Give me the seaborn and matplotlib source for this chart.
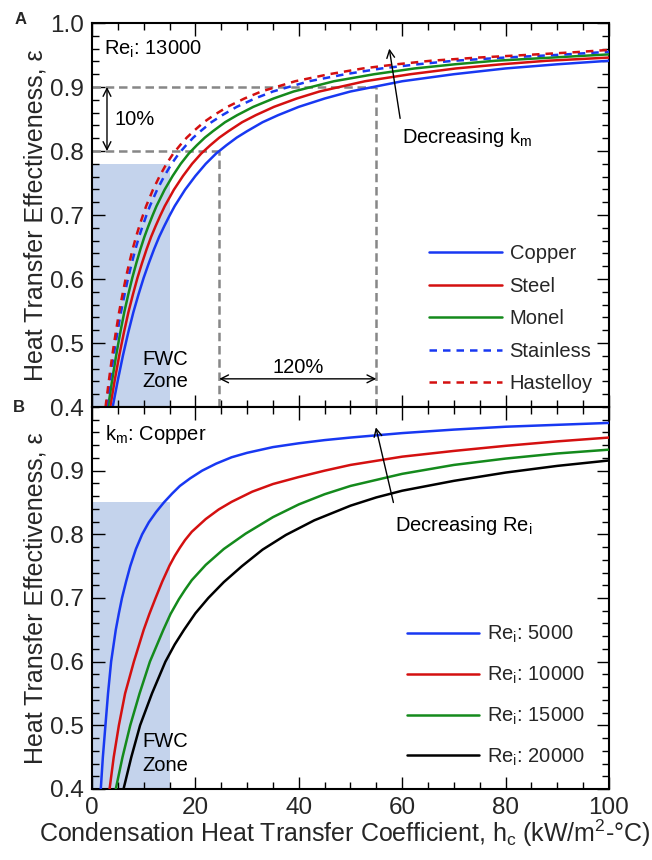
import matplotlib
matplotlib.use("Agg")
import matplotlib.pyplot as plt
from matplotlib.ticker import MultipleLocator, FixedLocator, FormatStrFormatter
import pandas as pd
import seaborn as sns

# ---------------- data ----------------
# Panel A: Re_i = 13000, different tube materials
copper_x = [4, 4.5, 5, 6, 7, 8, 9, 10, 11, 12, 13, 14, 15, 16, 18, 20, 22, 24, 26, 28,
            30, 33, 36, 40, 45, 50, 55, 60, 70, 80, 90, 100]
copper_y = [0.400, 0.421, 0.442, 0.481, 0.516, 0.548, 0.576, 0.602, 0.625, 0.6465, 0.666, 0.683,
            0.699, 0.714, 0.7395, 0.761, 0.780, 0.796, 0.809, 0.821, 0.831, 0.845, 0.856, 0.869,
            0.882, 0.893, 0.901, 0.909, 0.920, 0.929, 0.9355, 0.941]
steel_x = [3.52, 3.96, 4.4, 5.28, 6.16, 7.04, 7.92, 8.8, 9.68, 10.56, 11.44, 12.32, 13.2, 14.08,
           15.84, 17.6, 19.36, 21.12, 22.88, 24.64, 26.4, 29.04, 31.68, 35.2, 39.6, 44, 48.4,
           52.8, 61.6, 70.4, 79.2, 88, 100]
steel_y = [0.400, 0.421, 0.442, 0.481, 0.516, 0.548, 0.576, 0.602, 0.625, 0.6465, 0.666, 0.683,
           0.699, 0.714, 0.7395, 0.761, 0.780, 0.796, 0.809, 0.821, 0.831, 0.845, 0.856, 0.869,
           0.882, 0.893, 0.901, 0.909, 0.920, 0.929, 0.9355, 0.941, 0.946]
monel_x = [3.12, 3.51, 3.9, 4.68, 5.46, 6.24, 7.02, 7.8, 8.58, 9.36, 10.14, 10.92, 11.7, 12.48,
           14.04, 15.6, 17.16, 18.72, 20.28, 21.84, 23.4, 25.74, 28.08, 31.2, 35.1, 39, 42.9,
           46.8, 54.6, 62.4, 70.2, 78, 88.92, 100]
monel_y = [0.400, 0.421, 0.442, 0.481, 0.516, 0.548, 0.576, 0.602, 0.625, 0.6465, 0.666, 0.683,
           0.699, 0.714, 0.7395, 0.761, 0.780, 0.796, 0.809, 0.821, 0.831, 0.845, 0.856, 0.869,
           0.882, 0.893, 0.901, 0.909, 0.920, 0.929, 0.9355, 0.941, 0.946, 0.951]
stainless_x = [2.8, 3.15, 3.5, 4.2, 4.9, 5.6, 6.3, 7.0, 7.7, 8.4, 9.1, 9.8, 10.5, 11.2, 12.6, 14,
               15.4, 16.8, 18.2, 19.6, 21, 23.1, 25.2, 28, 31.5, 35, 38.5, 42, 49, 56, 63, 70,
               79.8, 89.6, 100]
stainless_y = [0.400, 0.421, 0.442, 0.481, 0.516, 0.548, 0.576, 0.602, 0.625, 0.6465, 0.666, 0.683,
               0.699, 0.714, 0.7395, 0.761, 0.780, 0.796, 0.809, 0.821, 0.831, 0.845, 0.856, 0.869,
               0.882, 0.893, 0.901, 0.909, 0.920, 0.929, 0.9355, 0.941, 0.946, 0.950, 0.955]
hastelloy_x = [2.62, 2.95, 3.28, 3.93, 4.59, 5.24, 5.9, 6.55, 7.21, 7.86, 8.52, 9.17, 9.83, 10.48,
               11.79, 13.1, 14.41, 15.72, 17.03, 18.34, 19.65, 21.62, 23.58, 26.2, 29.48, 32.75,
               36.03, 39.3, 45.85, 52.4, 58.95, 65.5, 74.67, 83.84, 93.67, 100]
hastelloy_y = [0.400, 0.421, 0.442, 0.481, 0.516, 0.548, 0.576, 0.602, 0.625, 0.6465, 0.666, 0.683,
               0.699, 0.714, 0.7395, 0.761, 0.780, 0.796, 0.809, 0.821, 0.831, 0.845, 0.856, 0.869,
               0.882, 0.893, 0.901, 0.909, 0.920, 0.929, 0.9355, 0.941, 0.946, 0.950, 0.9545, 0.958]
materials = ["Copper", "Steel", "Monel", "Stainless", "Hastelloy"]

# Panel B: copper tube, different Re_i
re5000_x = [1.7, 2.1, 2.6, 3.1, 3.7, 4.6, 5.2, 5.8, 6.6, 7.4, 8.5, 9.7, 11, 12.4, 13.9, 15.5,
            17, 19, 21.3, 24, 27, 30, 35, 40, 45, 50, 55, 60, 70, 80, 90, 100]
re5000_y = [0.40, 0.45, 0.50, 0.55, 0.60, 0.65, 0.676, 0.70, 0.726, 0.75, 0.777, 0.80, 0.819,
            0.835, 0.85, 0.864, 0.876, 0.888, 0.90, 0.911, 0.921, 0.928, 0.937, 0.943, 0.948,
            0.952, 0.9555, 0.959, 0.9645, 0.969, 0.972, 0.975]
re10000_x = [3.4, 4.2, 5.2, 6.4, 8.1, 10.0, 11.1, 12.3, 13.6, 15, 16, 17, 18, 19.3, 22, 24.5, 27,
             31, 35, 40, 45, 50, 60, 70, 80, 90, 100]
re10000_y = [0.40, 0.45, 0.50, 0.55, 0.60, 0.65, 0.675, 0.70, 0.726, 0.751, 0.766, 0.779, 0.791,
             0.804, 0.824, 0.839, 0.851, 0.867, 0.879, 0.890, 0.900, 0.909, 0.922, 0.931, 0.939,
             0.946, 0.952]
re15000_x = [4.6, 5.9, 7.4, 9.2, 11.2, 13.8, 15.2, 16.8, 18, 19.3, 22, 25.5, 29.7, 35, 40, 45, 50,
             60, 70, 80, 90, 100]
re15000_y = [0.40, 0.45, 0.50, 0.55, 0.60, 0.65, 0.675, 0.698, 0.713, 0.728, 0.752, 0.777, 0.801,
             0.827, 0.847, 0.863, 0.876, 0.895, 0.909, 0.919, 0.927, 0.933]
re20000_x = [6.1, 7.6, 9.3, 11.6, 12.9, 14.2, 16, 17.8, 20, 22.5, 25.5, 29, 33, 37.5, 43, 50, 55,
             60, 70, 80, 90, 100]
re20000_y = [0.40, 0.45, 0.50, 0.55, 0.575, 0.60, 0.627, 0.65, 0.676, 0.70, 0.725, 0.75, 0.776,
             0.799, 0.822, 0.845, 0.858, 0.8685, 0.884, 0.897, 0.9075, 0.916]
reynolds = [r"Re$_{\mathrm{i}}$: 5000", r"Re$_{\mathrm{i}}$: 10000",
            r"Re$_{\mathrm{i}}$: 15000", r"Re$_{\mathrm{i}}$: 20000"]

# annotation values
fwc_limit = 15
fwc_top_a = 0.78
fwc_top_b = 0.85
eff_low, eff_high = 0.8, 0.9
hc_low, hc_high = 24.6, 55.0

# ---------------- styling ----------------
sns.set_style("ticks")
plt.rcParams["font.family"] = ["Liberation Sans", "DejaVu Sans"]
plt.rcParams["mathtext.fontset"] = "custom"
plt.rcParams["mathtext.rm"] = "Liberation Sans"
plt.rcParams["mathtext.it"] = "Liberation Sans:italic"
plt.rcParams["mathtext.bf"] = "Liberation Sans:bold"

BLUE = "#1838f2"
RED = "#d41010"
GREEN = "#148a1c"
BLACK = "#000000"
SHADE = "#c4d3ec"
GREY = "#878787"
LW = 1.8

fig = plt.figure(figsize=(6.52, 8.6), dpi=100)
axA = fig.add_axes([0.14110, 0.52674, 0.79294, 0.44651])
axB = fig.add_axes([0.14110, 0.08256, 0.79294, 0.44419])

dfA = pd.concat([
    pd.DataFrame({"hc": xs, "eff": ys, "material": m})
    for xs, ys, m in [(copper_x, copper_y, "Copper"), (steel_x, steel_y, "Steel"),
                      (monel_x, monel_y, "Monel"), (stainless_x, stainless_y, "Stainless"),
                      (hastelloy_x, hastelloy_y, "Hastelloy")]
], ignore_index=True)
dfB = pd.concat([
    pd.DataFrame({"hc": xs, "eff": ys, "Re": r})
    for xs, ys, r in [(re5000_x, re5000_y, reynolds[0]), (re10000_x, re10000_y, reynolds[1]),
                      (re15000_x, re15000_y, reynolds[2]), (re20000_x, re20000_y, reynolds[3])]
], ignore_index=True)

# shaded FWC zones
axA.fill_between([0, fwc_limit], 0.4, fwc_top_a, color=SHADE, lw=0, zorder=0)
axB.fill_between([0, fwc_limit], 0.4, fwc_top_b, color=SHADE, lw=0, zorder=0)

# grey dashed guide lines (panel A)
gkw = dict(color=GREY, lw=1.8, ls=(0, (3.4, 1.9)), zorder=1)
axA.plot([0, hc_high], [eff_high, eff_high], **gkw)
axA.plot([0, hc_low], [eff_low, eff_low], **gkw)
axA.plot([hc_low, hc_low], [0.4, eff_low], **gkw)
axA.plot([hc_high, hc_high], [0.4, eff_high], **gkw)

sns.lineplot(data=dfA, x="hc", y="eff", hue="material", style="material",
             hue_order=materials, style_order=materials,
             palette={"Copper": BLUE, "Steel": RED, "Monel": GREEN,
                      "Stainless": BLUE, "Hastelloy": RED},
             dashes={"Copper": "", "Steel": "", "Monel": "",
                     "Stainless": (3.0, 2.4), "Hastelloy": (3.0, 2.4)},
             estimator=None, sort=False, lw=LW, ax=axA, zorder=3)
sns.lineplot(data=dfB, x="hc", y="eff", hue="Re", hue_order=reynolds,
             palette=dict(zip(reynolds, [BLUE, RED, GREEN, BLACK])),
             estimator=None, sort=False, lw=LW, ax=axB, zorder=3)

for ax in (axA, axB):
    ax.set_xlim(0, 100)
    ax.set_ylim(0.4, 1.0)
    ax.xaxis.set_major_locator(MultipleLocator(20))
    ax.xaxis.set_minor_locator(MultipleLocator(5))
    ax.yaxis.set_minor_locator(MultipleLocator(0.02))
    ax.yaxis.set_major_formatter(FormatStrFormatter("%.1f"))
    ax.tick_params(which="both", direction="in", top=True, right=True,
                   width=1.0, color="black")
    ax.tick_params(which="major", length=9, labelsize=17.5, pad=6)
    ax.tick_params(which="minor", length=5)
    for s in ax.spines.values():
        s.set_linewidth(1.5)
        s.set_color("black")
    ax.set_ylabel("Heat Transfer Effectiveness, ε", fontsize=18)
    ax.yaxis.set_label_coords(-0.087, 0.5)

axA.yaxis.set_major_locator(FixedLocator([0.4, 0.5, 0.6, 0.7, 0.8, 0.9, 1.0]))
axB.yaxis.set_major_locator(FixedLocator([0.4, 0.5, 0.6, 0.7, 0.8, 0.9]))
axA.tick_params(labelbottom=False)
axA.set_xlabel("")
axB.set_xlabel(r"Condensation Heat Transfer Coefficient, h$_{\mathrm{c}}$ (kW/m$^{2}$-°C)",
               fontsize=18)
axB.xaxis.set_label_coords(0.489, -0.076)

# legends
h, l = axA.get_legend_handles_labels()
axA.legend(h, l, loc="upper left", bbox_to_anchor=(0.652, 0.4236), frameon=False,
           fontsize=14.5, handlelength=3.6, handletextpad=0.4, labelspacing=0.67,
           borderpad=0, borderaxespad=0)
h, l = axB.get_legend_handles_labels()
axB.legend(h, l, loc="upper left", bbox_to_anchor=(0.609, 0.432), frameon=False,
           fontsize=14.5, handlelength=3.6, handletextpad=0.4, labelspacing=0.97,
           borderpad=0, borderaxespad=0)

# text annotations
tk = dict(fontsize=14.5, color="black")
axA.text(2.3, 0.95, r"Re$_{\mathrm{i}}$: 13000", ha="left", va="baseline", **tk)
axA.text(4.4, 0.841, "10%", ha="left", va="baseline", **tk)
axA.text(39.8, 0.4536, "120%", ha="center", va="baseline", **tk)
axA.text(9.8, 0.4656, "FWC", ha="left", va="baseline", **tk)
axA.text(9.8, 0.4318, "Zone", ha="left", va="baseline", **tk)
axA.text(59.9, 0.8125, r"Decreasing k$_{\mathrm{m}}$", ha="left", va="baseline", **tk)

axB.text(2.45, 0.948, r"k$_{\mathrm{m}}$: Copper", ha="left", va="baseline", **tk)
axB.text(9.8, 0.4656, "FWC", ha="left", va="baseline", **tk)
axB.text(9.8, 0.4286, "Zone", ha="left", va="baseline", **tk)
axB.text(58.6, 0.806, r"Decreasing Re$_{\mathrm{i}}$", ha="left", va="baseline", **tk)

ak = dict(color="black", lw=1.0, shrinkA=0, shrinkB=0, mutation_scale=14)
axA.annotate("", xy=(2.9, eff_high), xytext=(2.9, eff_low), arrowprops=dict(arrowstyle="<->", **ak))
axA.annotate("", xy=(hc_low, 0.444), xytext=(hc_high, 0.444), arrowprops=dict(arrowstyle="<->", **ak))
axA.annotate("", xy=(57.5, 0.960), xytext=(59.6, 0.851), arrowprops=dict(arrowstyle="->", **ak))
axB.annotate("", xy=(54.9, 0.968), xytext=(58.3, 0.850), arrowprops=dict(arrowstyle="->", **ak))

fig.text(21 / 652, 1 - 20 / 860, "A", fontsize=12, fontweight="bold", ha="center", va="center")
fig.text(19 / 652, 1 - 407 / 860, "B", fontsize=12, fontweight="bold", ha="center", va="center")

fig.savefig("out.png", dpi=100)
